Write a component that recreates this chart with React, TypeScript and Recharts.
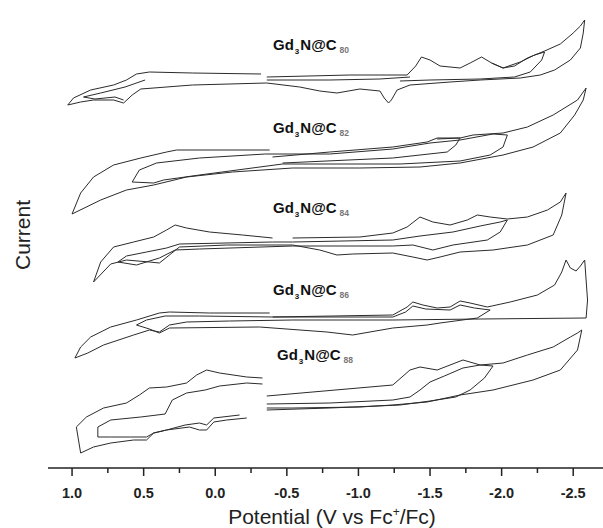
import { LineChart, Line, XAxis, YAxis } from 'recharts';

// potential (V vs Fc+/Fc), current (a.u., curves stacked with offsets)
type Pt = [number, number | null];

const c80Outer: Pt[] = [
  [1.03, 36.3], [0.99, 37.0], [0.87, 37.8], [0.71, 38.3], [0.62, 38.8], [0.55, 39.4],
  [0.46, 39.6], [0.16, 39.5], [-0.32, 39.4], [-0.34, null], [-0.36, 39.1], [-0.94, 39.3],
  [-1.34, 39.3], [-1.40, 40.2], [-1.44, 41.1], [-1.50, 40.8], [-1.57, 40.2], [-1.71, 40.0],
  [-1.78, 40.5], [-1.86, 41.1], [-1.93, 40.5], [-2.01, 40.0], [-2.09, 40.2], [-2.18, 41.0],
  [-2.30, 41.7], [-2.41, 42.4], [-2.50, 43.5], [-2.55, 44.2], [-2.58, 44.8], [-2.57, 43.5],
  [-2.55, 42.0], [-2.48, 40.8], [-2.37, 39.8], [-2.27, 39.3], [-2.13, 39.0], [-1.85, 38.8],
  [-1.64, 38.6], [-1.36, 38.3], [-1.27, 37.8], [-1.23, 36.8], [-1.21, 36.5], [-1.18, 37.0],
  [-1.15, 37.7], [-1.01, 37.9], [-0.85, 37.5], [-0.73, 37.7], [-0.59, 38.1], [-0.36, 38.5],
  [0.16, 38.3], [0.52, 37.9], [0.58, 37.3], [0.64, 36.5], [0.71, 36.8], [0.85, 36.8],
  [0.94, 36.6], [1.03, 36.3],
];
const c80InnerRight: Pt[] = [
  [-1.93, 40.5], [-2.01, 40.0], [-2.13, 40.6], [-2.23, 41.3], [-2.30, 41.6], [-2.28, 40.8],
  [-2.20, 39.6], [-2.09, 39.1], [-1.85, 38.9], [-1.50, 38.8], [-1.29, 38.7],
];
const c80InnerLeft: Pt[] = [
  [0.49, 38.8], [0.63, 38.1], [0.80, 37.5], [0.92, 37.1], [0.84, 36.9], [0.70, 37.1], [0.64, 36.8],
];
const c80Mid: Pt[] = [[-0.36, 38.8], [-0.80, 38.8], [-1.15, 38.9], [-1.36, 39.1]];

const c82Outer: Pt[] = [
  [1.00, 25.4], [0.94, 27.5], [0.85, 29.1], [0.71, 30.3], [0.52, 31.0], [0.34, 31.6],
  [0.27, 31.8], [-0.38, 31.8], [-0.39, null], [-0.40, 31.1], [-0.80, 31.6], [-1.24, 32.1],
  [-1.48, 32.6], [-1.55, 33.0], [-1.71, 33.0], [-1.80, 33.3], [-2.01, 33.5], [-2.18, 34.1],
  [-2.36, 35.3], [-2.53, 36.8], [-2.59, 38.0], [-2.57, 36.8], [-2.51, 35.3], [-2.41, 33.5],
  [-2.22, 32.1], [-2.01, 31.3], [-1.71, 30.5], [-1.43, 30.1], [-1.01, 30.0], [-0.54, 30.0],
  [-0.12, 29.6], [0.20, 29.1], [0.43, 28.3], [0.62, 27.8], [0.80, 26.8], [1.00, 25.4],
];
const c82Inner: Pt[] = [
  [0.58, 28.6], [0.53, 29.8], [0.41, 30.5], [0.11, 31.0], [-0.35, 31.4], [-0.80, 31.4],
  [-1.24, 31.9], [-1.50, 32.5], [-1.71, 32.8], [-1.94, 33.4], [-2.04, 33.3], [-2.01, 32.1],
  [-1.92, 31.3], [-1.71, 30.7], [-1.29, 30.4], [-0.47, 30.4], [0.11, 29.3], [0.36, 28.8],
  [0.43, 28.5], [0.58, 28.6],
];
const c82Turn: Pt[] = [
  [-1.55, 32.9], [-1.71, 33.0], [-1.68, 32.3], [-1.62, 31.6], [-1.24, 31.0], [-0.47, 30.5],
];

const c84Outer: Pt[] = [
  [0.85, 18.6], [0.80, 20.6], [0.71, 22.1], [0.57, 22.6], [0.43, 23.1], [0.34, 23.8],
  [0.28, 24.3], [0.20, 24.0], [0.04, 23.6], [-0.19, 23.3], [-0.40, 23.0], [-0.47, null],
  [-0.54, 23.0], [-1.01, 23.1], [-1.24, 23.5], [-1.34, 24.1], [-1.43, 25.1], [-1.52, 24.6],
  [-1.64, 24.3], [-1.76, 24.8], [-1.83, 25.3], [-1.92, 25.1], [-2.04, 24.9], [-2.18, 25.1],
  [-2.32, 25.8], [-2.41, 26.6], [-2.45, 27.5], [-2.42, 25.3], [-2.36, 23.3], [-2.18, 22.3],
  [-1.94, 21.8], [-1.71, 21.6], [-1.57, 21.1], [-1.48, 20.8], [-1.38, 21.1], [-1.24, 21.5],
  [-0.96, 21.4], [-0.85, 21.3], [-0.73, 21.8], [-0.54, 22.3], [-0.08, 22.3], [0.25, 22.1],
  [0.32, 21.3], [0.39, 20.5], [0.46, 20.6], [0.62, 20.8], [0.73, 20.4], [0.85, 18.6],
];
const c84Inner: Pt[] = [
  [0.68, 20.6], [0.62, 21.2], [0.48, 21.6], [0.34, 22.0], [0.25, 22.4], [-0.40, 22.6],
  [-0.54, 22.6], [-1.24, 22.8], [-1.43, 23.2], [-1.66, 23.6], [-1.85, 24.2], [-1.99, 24.6],
  [-2.04, 24.8], [-1.99, 23.6], [-1.90, 22.8], [-1.66, 22.3], [-1.52, 21.8], [-1.38, 22.3],
  [-1.24, 22.2], [-0.54, 22.2], [0.11, 21.9], [0.28, 21.8], [0.39, 21.0], [0.55, 20.3],
  [0.68, 20.6],
];

const c86Outer: Pt[] = [
  [0.98, 11.0], [0.94, 12.1], [0.87, 13.1], [0.73, 14.1], [0.55, 14.8], [0.39, 15.5],
  [0.32, 15.6], [0.04, 15.5], [-0.38, 15.5], [-0.39, null], [-0.40, 15.1], [-1.24, 15.3],
  [-1.34, 16.1], [-1.38, 16.6], [-1.45, 16.3], [-1.55, 16.0], [-1.64, 16.1], [-1.71, 16.7],
  [-1.78, 16.5], [-1.90, 16.1], [-2.06, 16.6], [-2.25, 17.3], [-2.37, 18.3], [-2.42, 19.6],
  [-2.45, 20.8], [-2.48, 20.0], [-2.52, 19.7], [-2.55, 20.2], [-2.58, 20.8], [-2.59, 18.8],
  [-2.60, 16.8], [-2.59, 15.0], [-1.85, 14.9], [-1.24, 14.8], [-0.54, 14.8], [-0.10, 14.7],
  [0.20, 14.6], [0.32, 14.3], [0.39, 13.6], [0.46, 13.8], [0.57, 13.3], [0.78, 12.3],
  [0.89, 11.5], [0.98, 11.0],
];
const c86Inner: Pt[] = [
  [0.55, 14.3], [0.48, 14.8], [0.35, 15.2], [0.11, 15.2], [-0.40, 15.1], [-1.24, 15.1],
  [-1.33, 15.6], [-1.38, 16.2], [-1.47, 15.9], [-1.64, 15.8], [-1.71, 16.3], [-1.81, 16.0],
  [-1.92, 15.8], [-1.83, 15.0], [-1.57, 14.5], [-1.48, 14.3], [-1.24, 14.0], [-0.96, 13.3],
  [-0.78, 13.6], [-0.31, 14.1], [0.32, 14.0], [0.39, 13.5], [0.46, 13.9], [0.55, 14.3],
];

const c88Outer: Pt[] = [
  [0.94, 1.5], [0.97, 4.1], [0.90, 5.1], [0.78, 6.0], [0.62, 6.5], [0.53, 7.3],
  [0.46, 8.0], [0.34, 8.1], [0.20, 8.5], [0.13, 9.3], [0.06, 9.8], [-0.03, 9.5],
  [-0.22, 9.1], [-0.33, 9.0], [-0.34, null], [-0.36, 7.2], [-1.24, 8.3], [-1.36, 9.8],
  [-1.43, 10.1], [-1.55, 9.8], [-1.64, 10.3], [-1.73, 10.8], [-1.85, 10.3], [-2.01, 10.5],
  [-2.18, 11.3], [-2.36, 12.1], [-2.48, 13.1], [-2.53, 13.5], [-2.56, 13.8], [-2.53, 11.8],
  [-2.41, 9.8], [-2.22, 8.8], [-1.94, 7.8], [-1.71, 7.3], [-1.48, 6.6], [-1.24, 6.3],
  [-1.01, 6.1], [-0.54, 6.0], [-0.36, 6.0], [-0.30, null], [-0.22, 5.0], [-0.08, 4.8],
  [0.01, 4.6], [0.06, 3.8], [0.11, 3.8], [0.18, 4.1], [0.34, 3.8], [0.43, 3.5],
  [0.48, 2.8], [0.57, 2.8], [0.73, 2.5], [0.85, 2.1], [0.94, 1.5],
];
const c88Inner: Pt[] = [
  [0.82, 3.1], [0.82, 4.1], [0.73, 4.8], [0.52, 5.1], [0.35, 5.4], [0.30, 6.8],
  [0.20, 7.5], [0.07, 7.8], [-0.03, 8.2], [-0.22, 8.5], [-0.33, 8.4], [-0.34, null],
  [-0.36, 6.4], [-0.80, 6.5], [-1.24, 6.8], [-1.36, 7.1], [-1.43, 7.8], [-1.50, 8.6],
  [-1.60, 9.2], [-1.73, 10.0], [-1.85, 10.3], [-1.94, 10.2], [-1.88, 9.0], [-1.78, 7.8],
  [-1.68, 7.1], [-1.50, 6.7], [-1.29, 6.3], [-0.80, 6.0], [-0.36, 5.8], [-0.30, null],
  [-0.17, 5.3], [0.01, 5.0], [0.06, 4.3], [0.11, 4.5], [0.21, 4.3], [0.34, 3.8],
  [0.43, 3.5], [0.48, 3.1], [0.59, 3.1], [0.73, 3.1], [0.82, 3.1],
];

const curves: Pt[][] = [
  c80Outer, c80InnerRight, c80InnerLeft, c80Mid,
  c82Outer, c82Inner, c82Turn,
  c84Outer, c84Inner,
  c86Outer, c86Inner,
  c88Outer, c88Inner,
];

const compoundLabels = [
  { cage: '80', x: 273, y: 50 },
  { cage: '82', x: 273, y: 133 },
  { cage: '84', x: 273, y: 213 },
  { cage: '86', x: 273, y: 295 },
  { cage: '88', x: 277, y: 360 },
];

const xTicks = [1.0, 0.75, 0.5, 0.25, 0.0, -0.25, -0.5, -0.75, -1.0, -1.25, -1.5, -1.75, -2.0, -2.25, -2.5];

const FONT = '"Liberation Sans", Arial, Helvetica, sans-serif';

const toRows = (pts: Pt[]) => pts.map(([v, i]) => ({ v, i }));

function PotentialTick(props: any) {
  const { x, y, payload } = props;
  const val = payload.value as number;
  const major = Math.abs(val * 2 - Math.round(val * 2)) < 1e-6;
  return (
    <g>
      <line x1={x} x2={x} y1={y} y2={y + (major ? 8 : 5)} stroke="#222" strokeWidth={1.5} />
      {major && (
        <text x={x} y={y + 30} textAnchor="middle" fontFamily={FONT} fontWeight="bold" fontSize={14.5} fill="#222">
          {val.toFixed(1)}
        </text>
      )}
    </g>
  );
}

export default function App() {
  return (
    <div style={{ position: 'absolute', left: 0, top: 0, width: 603, height: 528, background: '#fff' }}>
      <LineChart width={603} height={528} margin={{ top: 5, right: 0, left: 48, bottom: 0 }}>
        <XAxis
          type="number"
          dataKey="v"
          domain={[-2.708, 1.168]}
          reversed
          allowDataOverflow
          ticks={xTicks}
          interval={0}
          height={60}
          tickLine={false}
          tickSize={0}
          tickMargin={0}
          tick={<PotentialTick />}
          axisLine={{ stroke: '#222', strokeWidth: 1.6 }}
        />
        <YAxis
          type="number"
          domain={[0, 46.3]}
          allowDataOverflow
          width={0}
          tick={false}
          tickLine={false}
          axisLine={{ stroke: '#222', strokeWidth: 1.6 }}
        />
        {curves.map((pts, k) => (
          <Line
            key={k}
            data={toRows(pts)}
            dataKey="i"
            type="linear"
            dot={false}
            activeDot={false}
            stroke="#2b2b2b"
            strokeWidth={1}
            connectNulls={false}
            isAnimationActive={false}
          />
        ))}
      </LineChart>
      <svg width={603} height={528} style={{ position: 'absolute', left: 0, top: 0, pointerEvents: 'none' }}>
        {compoundLabels.map((l) => (
          <text key={l.cage} x={l.x} y={l.y} fontFamily={FONT} fontWeight="bold" fontSize={15} fill="#111">
            Gd<tspan fontSize={8} dx={1} dy={4}>3</tspan>
            <tspan dx={1} dy={-4}>N@C</tspan>
            <tspan fontSize={8.5} dx={3} dy={3} fill="#777">{l.cage}</tspan>
          </text>
        ))}
        <text
          x={30}
          y={235}
          transform="rotate(-90 30 235)"
          textAnchor="middle"
          fontFamily={FONT}
          fontSize={21}
          fill="#222"
        >
          Current
        </text>
        <text x={332} y={524} textAnchor="middle" fontFamily={FONT} fontSize={21} fill="#222">
          Potential (V vs Fc<tspan fontSize={12} dy={-8}>+</tspan>
          <tspan dy={8}>/Fc)</tspan>
        </text>
      </svg>
    </div>
  );
}
